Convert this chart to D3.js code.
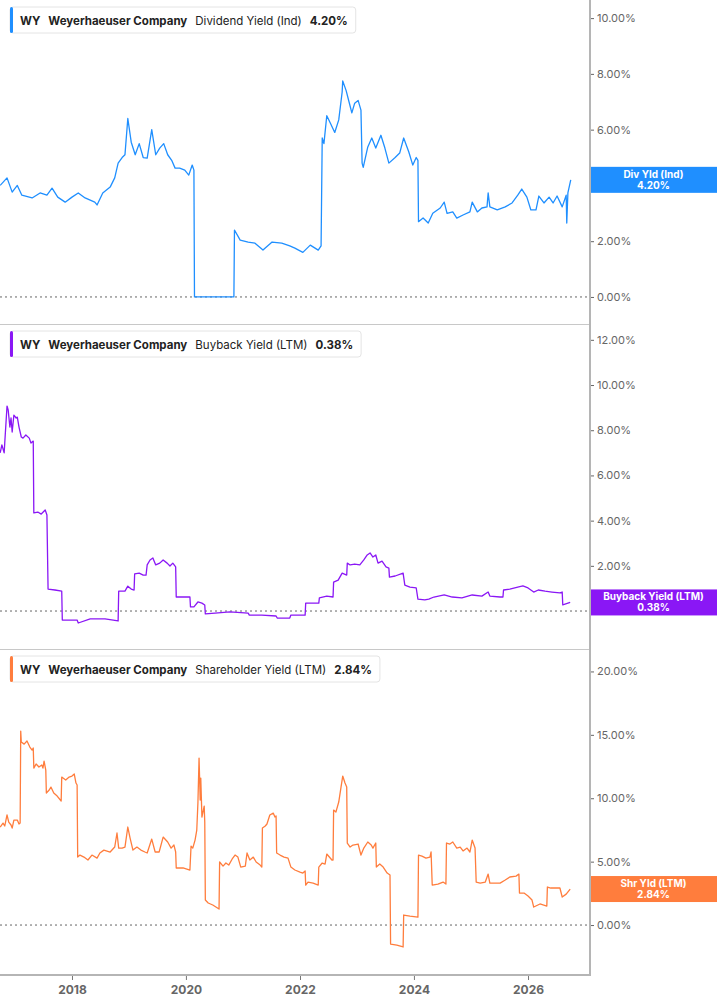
<!DOCTYPE html>
<html lang="en">
<head>
	<meta charset="UTF-8"/>
	<title>WY - Dividend, Buyback and Shareholder Yield</title>
	<script src="https://d3js.org/d3.v7.min.js"></script>
	<style>
		body { margin: 0; background: #fff; font-family: Inter, "Noto Sans", sans-serif; }
	</style>
</head>
<body>
<script>
	// ***Data***
	var ticker = "WY";
	var company = "Weyerhaeuser Company";
	var seriesNames = ["Dividend Yield (Ind)", "Buyback Yield (LTM)", "Shareholder Yield (LTM)"];
	var badgeNames = ["Div Yld (Ind)", "Buyback Yield (LTM)", "Shr Yld (LTM)"];
	var lastValues = [4.20, 0.38, 2.84];
	var yTicks = [[0, 2, 4, 6, 8, 10], [0, 2, 4, 6, 8, 10, 12], [0, 5, 10, 15, 20]];
	var yearTicks = [2018, 2020, 2022, 2024, 2026];

	// [decimal year, yield %]
	var dividendYield = [
		[2016.74,4.0],[2016.86,4.27],[2016.95,3.76],[2017.04,4.0],[2017.12,3.65],[2017.30,3.55],
		[2017.44,3.73],[2017.56,3.65],[2017.65,3.9],[2017.75,3.58],[2017.88,3.4],[2018.00,3.58],
		[2018.11,3.73],[2018.23,3.55],[2018.40,3.4],[2018.44,3.3],[2018.54,3.73],[2018.67,3.94],
		[2018.75,4.27],[2018.81,4.8],[2018.88,5.0],[2018.93,5.1],[2018.98,6.4],[2019.04,5.55],
		[2019.11,5.1],[2019.18,5.5],[2019.25,5.0],[2019.32,4.98],[2019.40,6.0],[2019.47,5.1],
		[2019.54,5.34],[2019.61,5.5],[2019.68,5.1],[2019.75,4.9],[2019.81,4.62],[2019.89,4.62],
		[2019.98,4.55],[2020.05,4.37],[2020.11,4.73],[2020.14,4.55],[2020.15,0],[2020.84,0],
		[2020.85,2.4],[2020.95,2.04],[2021.09,1.97],[2021.21,1.93],[2021.35,1.68],[2021.51,1.97],
		[2021.68,1.93],[2021.82,1.83],[2021.91,1.75],[2022.05,1.6],[2022.18,1.86],[2022.32,1.68],
		[2022.37,1.83],[2022.39,5.7],[2022.42,5.5],[2022.47,6.5],[2022.54,6.2],[2022.61,5.9],
		[2022.68,6.35],[2022.74,7.35],[2022.75,7.75],[2022.81,7.4],[2022.86,7.0],[2022.91,6.6],
		[2022.96,6.95],[2023.02,7.05],[2023.07,6.7],[2023.09,4.8],[2023.11,4.65],[2023.19,5.38],
		[2023.26,5.7],[2023.33,5.34],[2023.42,5.8],[2023.49,5.34],[2023.56,4.8],[2023.67,5.0],
		[2023.75,5.16],[2023.82,5.7],[2023.91,5.2],[2023.98,4.73],[2024.04,5.0],[2024.07,4.9],
		[2024.08,2.7],[2024.16,2.83],[2024.25,2.65],[2024.33,3.0],[2024.46,3.19],[2024.53,3.4],
		[2024.58,3.0],[2024.68,3.05],[2024.75,2.83],[2024.86,2.94],[2024.98,3.05],[2025.02,3.4],
		[2025.11,3.05],[2025.19,3.19],[2025.28,3.23],[2025.30,3.73],[2025.33,3.23],[2025.46,3.12],
		[2025.60,3.23],[2025.72,3.37],[2025.82,3.65],[2025.89,3.87],[2025.98,3.58],[2026.05,3.12],
		[2026.14,3.12],[2026.19,3.62],[2026.28,3.37],[2026.37,3.58],[2026.44,3.37],[2026.51,3.62],
		[2026.60,3.23],[2026.67,3.65],[2026.68,2.65],[2026.70,3.73],[2026.75,4.2]
	];

	var buybackYield = [
		[2016.74,7.0],[2016.77,7.35],[2016.81,7.0],[2016.82,7.43],[2016.86,9.07],[2016.88,8.9],
		[2016.91,8.14],[2016.93,8.54],[2016.95,7.92],[2016.98,8.67],[2017.02,8.54],[2017.04,8.58],
		[2017.07,8.14],[2017.11,7.7],[2017.14,7.65],[2017.19,7.79],[2017.25,7.65],[2017.28,7.43],
		[2017.32,7.52],[2017.33,4.34],[2017.40,4.38],[2017.46,4.29],[2017.53,4.47],[2017.56,4.25],
		[2017.58,0.97],[2017.70,0.93],[2017.82,0.88],[2017.83,-0.4],[2018.09,-0.4],[2018.11,-0.53],
		[2018.32,-0.35],[2018.58,-0.35],[2018.81,-0.44],[2018.82,0.88],[2018.93,0.88],[2018.98,1.1],
		[2019.04,0.97],[2019.09,0.93],[2019.10,1.64],[2019.18,1.68],[2019.25,1.59],[2019.30,1.59],
		[2019.32,2.04],[2019.37,2.26],[2019.42,2.35],[2019.47,2.04],[2019.54,2.12],[2019.60,2.26],
		[2019.67,2.12],[2019.72,1.99],[2019.77,2.12],[2019.82,1.95],[2019.83,0.62],[2020.07,0.62],
		[2020.08,0.18],[2020.14,0.18],[2020.21,0.4],[2020.28,0.35],[2020.33,0.27],[2020.34,-0.13],
		[2020.51,-0.09],[2020.77,-0.04],[2021.09,-0.09],[2021.11,-0.18],[2021.33,-0.18],[2021.58,-0.22],
		[2021.60,-0.31],[2021.82,-0.31],[2021.84,-0.18],[2022.09,-0.18],[2022.10,0.35],[2022.33,0.35],
		[2022.34,0.58],[2022.47,0.66],[2022.58,0.62],[2022.59,1.28],[2022.67,1.37],[2022.74,1.68],
		[2022.82,1.59],[2022.83,2.12],[2022.88,2.04],[2022.96,2.08],[2023.05,2.04],[2023.12,2.26],
		[2023.18,2.48],[2023.23,2.57],[2023.28,2.39],[2023.33,2.48],[2023.37,2.12],[2023.44,2.21],
		[2023.51,1.95],[2023.56,1.9],[2023.57,1.5],[2023.67,1.55],[2023.81,1.68],[2023.84,1.15],
		[2023.93,1.06],[2024.04,1.02],[2024.07,0.53],[2024.19,0.49],[2024.26,0.53],[2024.35,0.62],
		[2024.53,0.71],[2024.67,0.62],[2024.84,0.58],[2025.02,0.71],[2025.19,0.66],[2025.30,0.84],
		[2025.33,0.66],[2025.51,0.62],[2025.56,0.62],[2025.57,0.93],[2025.68,0.97],[2025.82,1.06],
		[2025.91,1.11],[2026.00,1.02],[2026.10,0.84],[2026.18,0.93],[2026.30,0.88],[2026.42,0.84],
		[2026.56,0.8],[2026.60,0.84],[2026.61,0.27],[2026.74,0.38]
	];

	var shareholderYield = [
		[2016.74,7.73],[2016.79,8.04],[2016.82,7.81],[2016.86,8.68],[2016.89,8.12],[2016.93,7.89],
		[2016.95,7.65],[2016.98,8.28],[2017.04,8.28],[2017.07,7.97],[2017.09,8.04],[2017.10,15.3],
		[2017.11,14.43],[2017.16,14.27],[2017.21,14.51],[2017.26,14.04],[2017.30,13.8],[2017.32,13.96],
		[2017.33,12.38],[2017.37,12.7],[2017.42,12.46],[2017.47,12.62],[2017.49,12.38],[2017.51,12.93],
		[2017.54,12.22],[2017.55,10.41],[2017.60,10.65],[2017.63,10.88],[2017.68,10.41],[2017.74,10.17],
		[2017.81,9.78],[2017.82,11.67],[2017.89,11.44],[2017.95,11.67],[2018.00,11.75],[2018.04,11.91],
		[2018.07,11.2],[2018.09,11.04],[2018.10,5.36],[2018.14,5.52],[2018.21,5.36],[2018.28,5.13],
		[2018.35,5.52],[2018.44,5.28],[2018.49,5.68],[2018.56,5.91],[2018.67,5.76],[2018.75,6.15],
		[2018.79,7.26],[2018.82,6.07],[2018.88,6.07],[2018.93,6.15],[2018.98,7.73],[2019.02,6.86],
		[2019.07,5.91],[2019.14,6.15],[2019.21,5.91],[2019.28,5.76],[2019.32,5.68],[2019.40,6.78],
		[2019.46,5.76],[2019.53,5.76],[2019.60,6.94],[2019.68,6.55],[2019.74,6.07],[2019.79,6.31],
		[2019.82,5.76],[2019.83,4.5],[2019.95,4.5],[2020.07,4.34],[2020.09,6.23],[2020.12,6.07],
		[2020.16,6.7],[2020.19,7.49],[2020.21,9.62],[2020.23,13.17],[2020.25,9.86],[2020.26,11.59],
		[2020.28,8.52],[2020.32,9.38],[2020.33,8.12],[2020.34,1.97],[2020.39,1.74],[2020.47,1.58],
		[2020.58,1.26],[2020.59,4.97],[2020.65,4.65],[2020.70,4.89],[2020.75,4.73],[2020.81,5.21],
		[2020.86,5.52],[2020.91,5.36],[2020.96,4.57],[2021.04,4.65],[2021.07,5.68],[2021.12,5.13],
		[2021.18,5.36],[2021.23,4.97],[2021.30,4.73],[2021.33,4.57],[2021.34,7.65],[2021.39,7.81],
		[2021.42,7.97],[2021.47,8.68],[2021.53,8.83],[2021.56,8.52],[2021.58,8.6],[2021.59,5.68],
		[2021.65,5.52],[2021.72,5.36],[2021.79,5.28],[2021.84,4.57],[2021.91,4.34],[2022.00,4.18],
		[2022.05,4.1],[2022.09,4.26],[2022.10,3.15],[2022.14,3.39],[2022.23,3.31],[2022.32,3.15],
		[2022.33,4.57],[2022.39,4.89],[2022.44,4.81],[2022.47,5.6],[2022.56,5.13],[2022.58,5.13],
		[2022.59,9.07],[2022.63,8.91],[2022.68,9.7],[2022.72,10.88],[2022.75,11.75],[2022.79,11.2],
		[2022.82,10.88],[2022.83,6.47],[2022.88,6.15],[2022.93,6.31],[2023.02,6.39],[2023.07,5.52],
		[2023.12,6.07],[2023.19,6.55],[2023.25,6.31],[2023.28,6.07],[2023.33,6.47],[2023.34,4.57],
		[2023.40,4.81],[2023.46,4.57],[2023.53,4.1],[2023.58,3.94],[2023.59,-1.5],[2023.70,-1.58],
		[2023.81,-1.73],[2023.82,0.79],[2023.93,0.71],[2024.07,0.63],[2024.08,5.52],[2024.14,5.44],
		[2024.21,5.28],[2024.28,5.36],[2024.30,5.76],[2024.32,3.15],[2024.42,3.23],[2024.51,3.39],
		[2024.56,3.23],[2024.57,6.47],[2024.63,6.39],[2024.68,6.55],[2024.75,6.07],[2024.81,6.15],
		[2024.86,5.84],[2024.93,6.07],[2024.98,5.76],[2025.02,6.7],[2025.07,6.07],[2025.09,3.39],
		[2025.16,3.31],[2025.25,3.39],[2025.30,4.02],[2025.33,3.31],[2025.51,3.31],[2025.60,3.55],
		[2025.68,3.79],[2025.79,3.86],[2025.84,4.02],[2025.85,2.52],[2025.93,2.52],[2026.00,2.29],
		[2026.07,1.97],[2026.10,1.42],[2026.21,1.66],[2026.33,1.5],[2026.34,3.0],[2026.40,2.92],
		[2026.47,2.92],[2026.56,2.92],[2026.60,2.21],[2026.67,2.44],[2026.74,2.84]
	];
	var allSeries = [dividendYield, buybackYield, shareholderYield];

	// ***Layout***
	var w = 717;
	var h = 1005;
	var plotRight = 590;
	var axisBottom = 975;
	var colors = ["#1f8fff", "#8a17f5", "#ff7d3d"];
	var panels = [
		{ top: 0,   bottom: 324, domain: [-0.97, 10.65] },
		{ top: 324, bottom: 649, domain: [-1.68, 12.7] },
		{ top: 649, bottom: 975, domain: [-3.94, 21.77] }
	];

	function toDate(y) {
		var yr = Math.floor(y);
		var start = Date.UTC(yr, 0, 1);
		var end = Date.UTC(yr + 1, 0, 1);
		return new Date(start + (y - yr) * (end - start));
	}

	var xScale = d3.scaleUtc()
		.domain([toDate(2016.737), toDate(2027.088)])
		.range([0, plotRight]);

	var svg = d3.select("body")
		.append("svg")
		.attr("width", w)
		.attr("height", h)
		.style("display", "block");

	// panel separators
	svg.selectAll("line.sep")
		.data([324, 649])
		.enter()
		.append("line")
		.attr("class", "sep")
		.attr("x1", 0).attr("x2", plotRight)
		.attr("y1", function(d) { return d + 0.5; })
		.attr("y2", function(d) { return d + 0.5; })
		.attr("stroke", "#c8c8c8");

	panels.forEach(function(p, i) {
		var yScale = d3.scaleLinear().domain(p.domain).range([p.bottom, p.top]);
		var g = svg.append("g");

		// zero line
		g.append("line")
			.attr("x1", 0).attr("x2", plotRight)
			.attr("y1", yScale(0)).attr("y2", yScale(0))
			.attr("stroke", "#666")
			.attr("stroke-dasharray", "2,3");

		// right axis
		var yAxis = d3.axisRight(yScale)
			.tickValues(yTicks[i])
			.tickSize(4)
			.tickFormat(function(d) { return d.toFixed(2) + "%"; });
		var ax = g.append("g")
			.attr("transform", "translate(" + plotRight + ",0)")
			.call(yAxis);
		ax.select(".domain").remove();
		ax.selectAll(".tick line").attr("stroke", "#666");
		ax.selectAll(".tick text")
			.attr("x", 7)
			.attr("fill", "#666")
			.style("font-family", "Inter, sans-serif")
			.style("font-size", "11px");

		// series line
		var line = d3.line()
			.x(function(d) { return xScale(toDate(d[0])); })
			.y(function(d) { return yScale(d[1]); });
		g.append("path")
			.datum(allSeries[i])
			.attr("d", line)
			.attr("fill", "none")
			.attr("stroke", colors[i])
			.attr("stroke-width", 1.3)
			.attr("stroke-linejoin", "round");

		// legend box
		var lg = g.append("g").attr("transform", "translate(10," + (p.top + 7) + ")");
		var box = lg.append("rect")
			.attr("height", 26).attr("rx", 3)
			.attr("fill", "#fff").attr("stroke", "#e4e4e4");
		var parts = [
			{ t: ticker, b: true },
			{ t: company, b: true },
			{ t: seriesNames[i], b: false },
			{ t: lastValues[i].toFixed(2) + "%", b: true }
		];
		var cx = 10;
		parts.forEach(function(part) {
			var t = lg.append("text")
				.attr("x", cx).attr("y", 18)
				.attr("fill", "#222")
				.style("font-size", "11.5px")
				.style("font-weight", part.b ? 700 : 400)
				.text(part.t);
			cx += t.node().getComputedTextLength() + 8;
		});
		box.attr("width", cx);
		lg.append("rect")
			.attr("width", 3).attr("height", 26).attr("rx", 1.5)
			.attr("fill", colors[i]);

		// last value badge
		var by = yScale(lastValues[i]);
		svg.append("rect")
			.attr("x", plotRight).attr("y", by - 13)
			.attr("width", w - plotRight).attr("height", 26)
			.attr("fill", colors[i]);
		svg.append("text")
			.attr("x", (plotRight + w) / 2).attr("y", by - 2)
			.attr("text-anchor", "middle")
			.attr("fill", "#fff")
			.style("font-size", "10px").style("font-weight", 700)
			.text(badgeNames[i]);
		svg.append("text")
			.attr("x", (plotRight + w) / 2).attr("y", by + 9)
			.attr("text-anchor", "middle")
			.attr("fill", "#fff")
			.style("font-size", "10px").style("font-weight", 700)
			.text(lastValues[i].toFixed(2) + "%");
	});

	// right axis line
	svg.append("line")
		.attr("x1", plotRight).attr("x2", plotRight)
		.attr("y1", 0).attr("y2", axisBottom + 1)
		.attr("stroke", "#b5b5b5").attr("stroke-width", 2);

	// bottom axis
	var xAxis = d3.axisBottom(xScale)
		.tickValues(yearTicks.map(function(y) { return toDate(y); }))
		.tickSize(5)
		.tickFormat(d3.utcFormat("%Y"));
	var xa = svg.append("g")
		.attr("transform", "translate(0," + axisBottom + ")")
		.call(xAxis);
	xa.select(".domain").remove();
	xa.selectAll(".tick line").attr("stroke", "#777");
	xa.selectAll(".tick text")
		.attr("y", 10)
		.attr("fill", "#666")
		.style("font-family", "Inter, sans-serif")
		.style("font-size", "12px")
		.style("font-weight", 700);
	svg.append("line")
		.attr("x1", 0).attr("x2", plotRight + 1)
		.attr("y1", axisBottom).attr("y2", axisBottom)
		.attr("stroke", "#b5b5b5").attr("stroke-width", 2);
</script>
</body>
</html>
